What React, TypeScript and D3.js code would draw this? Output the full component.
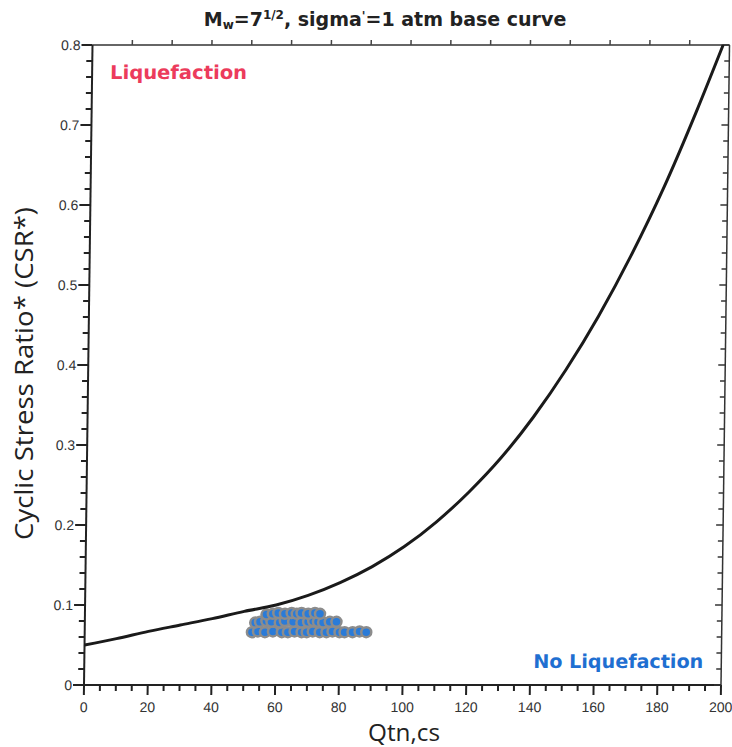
import React from "react";
import * as d3 from "d3";

const W = 732;
const H = 747;

// Axis definitions
const xTickValues = [0, 20, 40, 60, 80, 100, 120, 140, 160, 180, 200];
const yTickValues = [0, 0.1, 0.2, 0.3, 0.4, 0.5, 0.6, 0.7, 0.8];
const yTickLabels = ["0", "0.1", "0.2", "0.3", "0.4", "0.5", "0.6", "0.7", "0.8"];
const topTickValues = [12.5, 25, 37.5, 50, 62.5, 75, 87.5, 100, 112.5, 125, 137.5, 150, 162.5, 175, 187.5];

// Base curve
const curveQ = [0, 10, 20, 30, 40, 50, 60, 70, 80, 90, 100, 110, 120, 130, 140, 150, 160, 170, 180, 190, 198];
const curveCSR = [0.05, 0.058, 0.067, 0.075, 0.083, 0.092, 0.1, 0.112, 0.128, 0.148, 0.173, 0.204, 0.241, 0.284, 0.335, 0.394, 0.461, 0.537, 0.622, 0.718, 0.8];

// Data points (three bands)
const row1Q = [52.5, 54.4, 56.6, 59.1, 61.9, 63.8, 65.9, 68.1, 69.7, 71.6, 73.8, 75.9, 77.8, 80.0, 81.6, 84.1, 86.3, 88.4];
const row1CSR = [0.066, 0.067, 0.066, 0.067, 0.066, 0.066, 0.067, 0.066, 0.066, 0.067, 0.066, 0.066, 0.067, 0.066, 0.066, 0.066, 0.067, 0.066];
const row2Q = [53.5, 55, 57, 58.6, 61.2, 62.8, 65.4, 68, 70.1, 71.7, 73.2, 74.8, 76.9, 79];
const row2CSR = [0.078, 0.079, 0.08, 0.079, 0.078, 0.08, 0.079, 0.078, 0.079, 0.08, 0.079, 0.078, 0.079, 0.079];
const row3Q = [57, 59, 60.7, 62.8, 64.9, 66.5, 68, 70.1, 72.2, 73.8];
const row3CSR = [0.088, 0.089, 0.09, 0.089, 0.09, 0.089, 0.09, 0.089, 0.09, 0.089];

const boldFont = "'DejaVu Sans', Verdana, sans-serif";
const tickFont = "'Liberation Sans', Arial, sans-serif";
const titleFont = "'Open Sans', 'Noto Sans', sans-serif";

export default function App() {
  const x = d3.scaleLinear().domain([0, 200]).range([84, 721]);
  const y = d3.scaleLinear().domain([0, 0.8]).range([685, 45]);

  const curveData: [number, number][] = curveQ.map((q, i) => [q, curveCSR[i]]);
  const line = d3
    .line<[number, number]>()
    .x((d) => x(d[0]))
    .y((d) => y(d[1]))
    .curve(d3.curveMonotoneX);

  const pts: [number, number][] = [
    ...row1Q.map((q, i) => [q, row1CSR[i]] as [number, number]),
    ...row2Q.map((q, i) => [q, row2CSR[i]] as [number, number]),
    ...row3Q.map((q, i) => [q, row3CSR[i]] as [number, number]),
  ];

  const xMinor = x.ticks(40).filter((t) => Math.abs(t / 20 - Math.round(t / 20)) > 1e-6);
  const yMinor = y.ticks(40).filter((t) => Math.abs(t * 10 - Math.round(t * 10)) > 1e-6);

  const x0 = x(0);
  const x1 = x(200);
  const y0 = y(0);
  const y1 = y(0.8);

  const skewAngle = (-Math.atan(8.5 / (y0 - y1)) * 180) / Math.PI;
  const skew = `translate(0,${y0}) skewX(${skewAngle}) translate(0,${-y0})`;

  return (
    <svg
      width={W}
      height={H}
      viewBox={`0 0 ${W} ${H}`}
      style={{ position: "absolute", left: 0, top: 0, background: "#fff", display: "block" }}
    >
      <rect x={0} y={0} width={W} height={H} fill="#fff" />
      {/* Title */}
      <text
        x={385}
        y={26}
        textAnchor="middle"
        fontFamily={boldFont}
        fontWeight="bold"
        fontSize={19}
        fill="#222"
      >
        <tspan>M</tspan>
        <tspan fontSize={12} dy={3}>w</tspan>
        <tspan dy={-3}>=7</tspan>
        <tspan fontSize={12} dy={-7}>1/2</tspan>
        <tspan dy={7}>, sigma</tspan>
        <tspan fontSize={12} dy={-6}>'</tspan>
        <tspan dy={6}>=1 atm base curve</tspan>
      </text>

      <g transform={skew}>
        {/* frame lines */}
        <line x1={x0} x2={x1} y1={y1} y2={y1} stroke="#333" strokeWidth={1.5} />
        <line x1={x1} x2={x1} y1={y1} y2={y0} stroke="#333" strokeWidth={1.5} />
        <line x1={x0} x2={x0} y1={y1} y2={y0} stroke="#222" strokeWidth={2} />
        <line x1={x0} x2={x1} y1={y0} y2={y0} stroke="#222" strokeWidth={2} />

        {/* top ticks */}
        {topTickValues.map((t) => (
          <line key={"tt" + t} x1={x(t)} x2={x(t)} y1={y1} y2={y1 - 5} stroke="#444" strokeWidth={1.5} />
        ))}

        {/* x ticks */}
        {xTickValues.map((t) => (
          <g key={"xt" + t}>
            <line x1={x(t)} x2={x(t)} y1={y0} y2={y0 + 10} stroke="#222" strokeWidth={2} />
            <text
              x={x(t)}
              y={y0 + 27}
              textAnchor="middle"
              fontFamily={tickFont}
              fontSize={14}
              fill="#333"
            >
              {String(t)}
            </text>
          </g>
        ))}
        {xMinor.map((t) => (
          <line key={"xm" + t} x1={x(t)} x2={x(t)} y1={y0} y2={y0 + 6} stroke="#222" strokeWidth={2} />
        ))}

        {/* y ticks */}
        {yTickValues.map((t, i) => (
          <g key={"yt" + t}>
            <line x1={x0} x2={x0 - 11} y1={y(t)} y2={y(t)} stroke="#222" strokeWidth={2} />
            <line x1={x1} x2={x1 - 7} y1={y(t)} y2={y(t)} stroke="#333" strokeWidth={1.5} />
            <text
              x={x0 - 12}
              y={y(t) + 5}
              textAnchor="end"
              fontFamily={tickFont}
              fontSize={14}
              fill="#333"
            >
              {yTickLabels[i]}
            </text>
          </g>
        ))}
        {yMinor.map((t) => (
          <g key={"ym" + t}>
            <line x1={x0} x2={x0 - 6} y1={y(t)} y2={y(t)} stroke="#222" strokeWidth={2} />
            <line x1={x1} x2={x1 - 5} y1={y(t)} y2={y(t)} stroke="#333" strokeWidth={1.5} />
          </g>
        ))}

        {/* Region labels */}
        <text
          x={102}
          y={79}
          fontFamily={boldFont}
          fontWeight="bold"
          fontSize={19}
          fill="#ec3b5c"
          textLength={137}
          lengthAdjust="spacingAndGlyphs"
        >
          Liquefaction
        </text>
        <text
          x={533}
          y={668}
          fontFamily={boldFont}
          fontWeight="bold"
          fontSize={19}
          fill="#1f6fd1"
          textLength={170}
          lengthAdjust="spacingAndGlyphs"
        >
          No Liquefaction
        </text>

        {/* Data points */}
        {pts.map((p, i) => (
          <circle
            key={"p" + i}
            cx={x(p[0])}
            cy={y(p[1])}
            r={5}
            fill="#2a7bd8"
            stroke="#8c8c8c"
            strokeWidth={2.5}
          />
        ))}

        {/* Base curve */}
        <path d={line(curveData) || ""} fill="none" stroke="#1a1a1a" strokeWidth={3} />
      </g>

      {/* Axis titles */}
      <text
        x={368}
        y={741}
        fontFamily={titleFont}
        fontSize={24}
        fill="#222"
        textLength={72}
        lengthAdjust="spacingAndGlyphs"
      >
        Qtn,cs
      </text>
      <text
        transform={`translate(33,540) rotate(-90)`}
        fontFamily={titleFont}
        fontSize={25}
        fill="#222"
        textLength={333}
        lengthAdjust="spacingAndGlyphs"
      >
        Cyclic Stress Ratio* (CSR*)
      </text>
    </svg>
  );
}
